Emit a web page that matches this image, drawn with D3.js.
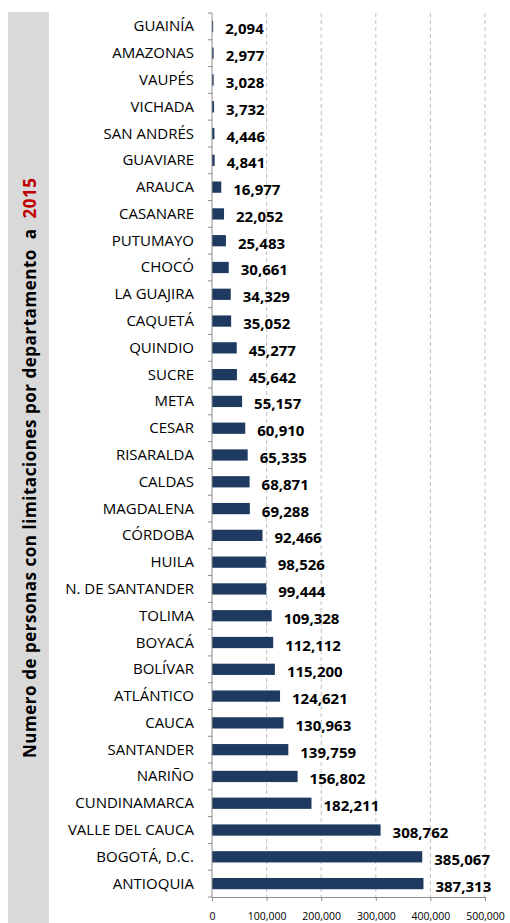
<!DOCTYPE html>
<html>
<head>
<meta charset="utf-8">
<script src="https://cdn.jsdelivr.net/npm/d3@7"></script>
<style>
  body { margin: 0; background: #fff; }
  svg { display: block; }
</style>
</head>
<body>
<div id="chart"></div>
<script>
// departamentos, top to bottom as in the picture
var departamentos = ['GUAINÍA','AMAZONAS','VAUPÉS','VICHADA','SAN ANDRÉS','GUAVIARE','ARAUCA','CASANARE',
  'PUTUMAYO','CHOCÓ','LA GUAJIRA','CAQUETÁ','QUINDIO','SUCRE','META','CESAR','RISARALDA','CALDAS',
  'MAGDALENA','CÓRDOBA','HUILA','N. DE SANTANDER','TOLIMA','BOYACÁ','BOLÍVAR','ATLÁNTICO','CAUCA',
  'SANTANDER','NARIÑO','CUNDINAMARCA','VALLE DEL CAUCA','BOGOTÁ, D.C.','ANTIOQUIA'];
var personas = [2094,2977,3028,3732,4446,4841,16977,22052,25483,30661,34329,35052,45277,45642,55157,
  60910,65335,68871,69288,92466,98526,99444,109328,112112,115200,124621,130963,139759,156802,182211,
  308762,385067,387313];
var xTicks = [0,100000,200000,300000,400000,500000];

var width = 510, height = 923;
var margin = {top: 13, left: 212, right: 25, bottom: 26};

var svg = d3.select('#chart').append('svg')
  .attr('width', width).attr('height', height);

// grey title panel
svg.append('rect').attr('x', 8).attr('y', 12).attr('width', 41).attr('height', height - 12)
  .attr('fill', '#d9d9d9');

var title = svg.append('text')
  .attr('transform', 'translate(36,468) rotate(-90)')
  .attr('text-anchor', 'middle')
  .attr('textLength', 580).attr('lengthAdjust', 'spacing')
  .style('font-family', 'Open Sans, sans-serif')
  .style('font-size', '17px').style('font-weight', 'bold')
  .style('white-space', 'pre');
title.append('tspan').attr('fill', '#000').text('Numero de personas con limitaciones por departamento  a  ');
title.append('tspan').attr('fill', '#c00000').text('2015');

var x = d3.scaleLinear().domain([0, 500000]).range([margin.left, width - margin.right]);
var y = d3.scaleBand().domain(departamentos)
  .range([margin.top, height - margin.bottom]).paddingInner(0.58).paddingOuter(0.29);

// dashed gridlines
svg.append('g').selectAll('line').data(xTicks.slice(1)).enter().append('line')
  .attr('x1', function(d){ return x(d); }).attr('x2', function(d){ return x(d); })
  .attr('y1', margin.top).attr('y2', height - margin.bottom)
  .attr('stroke', '#bfbfbf').attr('stroke-dasharray', '4,3');

// bars
svg.append('g').selectAll('rect').data(personas).enter().append('rect')
  .attr('x', x(0))
  .attr('y', function(d, i){ return y(departamentos[i]); })
  .attr('width', function(d){ return x(d) - x(0); })
  .attr('height', y.bandwidth())
  .attr('fill', '#1f3a60');

// value labels
svg.append('g').selectAll('text').data(personas).enter().append('text')
  .attr('x', function(d){ return x(d) + 12; })
  .attr('y', function(d, i){ return y(departamentos[i]) + y.bandwidth() / 2 + 8; })
  .style('font-family', 'Open Sans, sans-serif')
  .style('font-size', '15px').style('font-weight', 'bold')
  .attr('fill', '#000')
  .text(d3.format(','));

// y axis: line + ticks at band edges
var yAxis = svg.append('g');
yAxis.append('line').attr('x1', x(0)).attr('x2', x(0))
  .attr('y1', margin.top).attr('y2', height - margin.bottom).attr('stroke', '#8c8c8c');
yAxis.selectAll('.tk').data(d3.range(departamentos.length + 1)).enter().append('line')
  .attr('x1', x(0) - 4).attr('x2', x(0))
  .attr('y1', function(i){ return margin.top + i * (height - margin.bottom - margin.top) / departamentos.length; })
  .attr('y2', function(i){ return margin.top + i * (height - margin.bottom - margin.top) / departamentos.length; })
  .attr('stroke', '#8c8c8c');
yAxis.selectAll('text').data(departamentos).enter().append('text')
  .attr('x', 194)
  .attr('y', function(d){ return y(d) + y.bandwidth() / 2 + 5; })
  .attr('text-anchor', 'end')
  .style('font-family', 'Open Sans, sans-serif')
  .style('font-size', '15px')
  .attr('fill', '#000')
  .text(function(d){ return d; });

// x axis
var xAxis = svg.append('g').attr('transform', 'translate(0,' + (height - margin.bottom) + ')')
  .call(d3.axisBottom(x).tickValues(xTicks).tickSize(4).tickFormat(d3.format(',')));
xAxis.select('.domain').attr('stroke', '#8c8c8c');
xAxis.selectAll('.tick line').attr('stroke', '#8c8c8c');
xAxis.selectAll('text')
  .attr('y', 16)
  .style('font-family', 'Open Sans, sans-serif').style('font-size', '10.5px').attr('fill', '#000');
</script>
</body>
</html>
